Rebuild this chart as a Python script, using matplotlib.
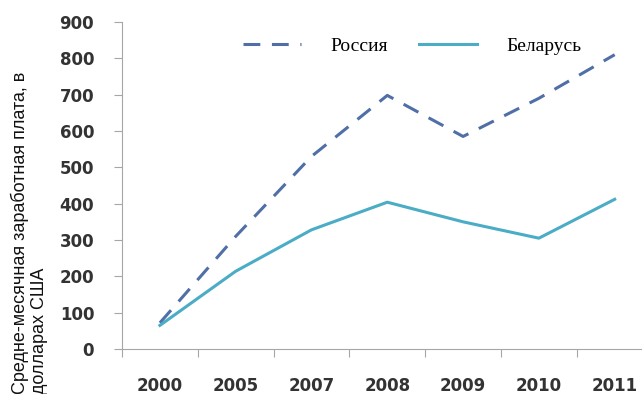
import matplotlib.pyplot as plt

years = ['2000', '2005', '2007', '2008', '2009', '2010', '2011']
russia = [72, 310, 530, 698, 585, 690, 810]
belarus = [65, 214, 328, 404, 350, 305, 412]
yticks = [0, 100, 200, 300, 400, 500, 600, 700, 800, 900]


def main():
    fig = plt.figure(figsize=(6.42, 3.94), dpi=100)
    ax = fig.add_axes([122 / 642, 45 / 394, 523 / 642, 327 / 394])

    x = list(range(len(years)))
    ax.plot(x, russia, color='#4F6FA6', lw=2.2, linestyle=(0, (5.5, 3.8)),
            label='Россия')
    ax.plot(x, belarus, color='#4BACC6', lw=2.2, label='Беларусь')

    ax.set_xlim(-0.5, len(years) - 0.6)
    ax.set_ylim(0, 900)
    ax.set_yticks(yticks)
    ax.set_yticklabels([str(v) for v in yticks])

    # category ticks between the points, labels under the points
    ax.set_xticks([i - 0.5 for i in range(len(years))], minor=False)
    ax.set_xticklabels([])
    ax.set_xticks(x, minor=True)
    ax.set_xticklabels(years, minor=True)
    ax.tick_params(axis='x', which='minor', length=0, pad=20,
                   labelsize=12, labelcolor='#333333')
    ax.tick_params(axis='x', which='major', length=6, color='#A6A6A6')
    ax.tick_params(axis='y', length=6, color='#A6A6A6', pad=14,
                   labelsize=12, labelcolor='#333333')
    for lbl in ax.get_yticklabels() + ax.get_xticklabels(minor=True):
        lbl.set_fontweight('bold')

    for side in ['top', 'right']:
        ax.spines[side].set_visible(False)
    for side in ['left', 'bottom']:
        ax.spines[side].set_color('#A6A6A6')

    leg = ax.legend(loc='upper center', bbox_to_anchor=(0.555, 1.0), ncol=2,
                    frameon=True, handlelength=3.0, handletextpad=1.5,
                    columnspacing=1.6, borderpad=0.3,
                    prop={'family': 'Liberation Serif', 'size': 14})
    leg.get_frame().set_facecolor('white')
    leg.get_frame().set_edgecolor('none')
    leg.get_frame().set_alpha(1.0)

    fig.text(0.016, 0.0, 'Средне-месячная заработная плата, в\nдолларах США',
             rotation=90, ha='left', va='bottom', multialignment='left',
             fontsize=13, family='Liberation Sans', color='#111111',
             linespacing=1.15)

    fig.savefig('out.png', dpi=100)


if __name__ == '__main__':
    main()
